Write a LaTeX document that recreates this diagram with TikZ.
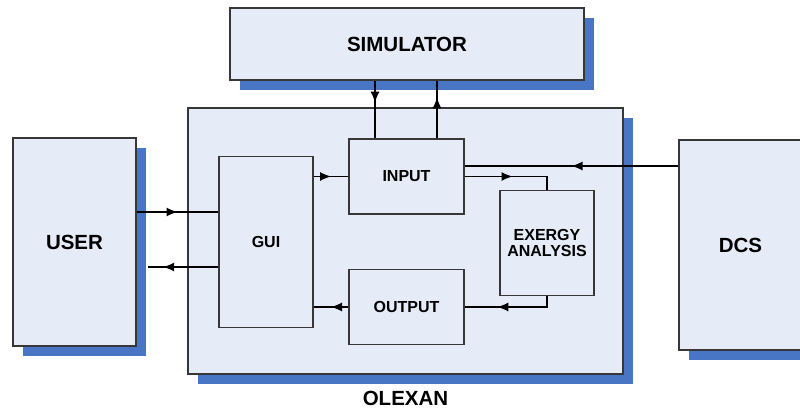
\documentclass[tikz,border=0pt]{standalone}
\usepackage{fontspec}
\setmainfont{Liberation Sans}
\usepackage{tikz}
\usetikzlibrary{positioning,calc,shadows,arrows.meta,decorations.markings}
\usepackage{xcolor}
\definecolor{boxfill}{RGB}{229,235,247}
\definecolor{shadowblue}{RGB}{72,117,196}
\definecolor{edgegray}{RGB}{55,55,55}

\begin{document}
\begin{tikzpicture}[
    x=1pt, y=-1pt,
    box/.style={rectangle, draw=edgegray, line width=1.3pt, fill=boxfill, inner sep=0pt, align=center, font=\bfseries\fontsize{16}{18}\selectfont},
    bigbox/.style={box, general shadow={fill=shadowblue, shadow xshift=10pt, shadow yshift=-10pt}, font=\bfseries\fontsize{20.5}{23}\selectfont},
    flow/.style={line width=1.2pt, decoration={markings, mark=at position #1 with {\arrow{Latex[length=11pt,width=9pt]}}}, postaction={decorate}},
    flow/.default=0.5
]
    \useasboundingbox (0,0) rectangle (800,409);
    \clip (0,0) rectangle (800,409);

    % Outer blocks
    \node[bigbox, minimum width=354pt, minimum height=72pt] (simulator) at (407,44) {SIMULATOR};
    \node[bigbox, minimum width=435pt, minimum height=266pt] (olexan) at (405.5,241) {};
    \node[bigbox, minimum width=123pt, minimum height=208pt] (user) at (74.5,242) {USER};
    \node[bigbox, minimum width=123pt, minimum height=210pt] (dcs) at (740.5,245) {DCS};
    \node[font=\bfseries\fontsize{20.5}{23}\selectfont] (olexanlabel) at ([yshift=-24pt]olexan.south) {OLEXAN};

    % Inner blocks
    \node[box, minimum width=94pt, minimum height=171pt] (gui) at (266,242) {GUI};
    \node[box, minimum width=115pt, minimum height=75pt] (input) at (406.5,176.5) {INPUT};
    \node[box, minimum width=115pt, minimum height=75pt] (output) at (406.5,307) {OUTPUT};
    \node[box, minimum width=94pt, minimum height=105pt] (exergy) at (547,243) {EXERGY\\[-2pt]ANALYSIS};

    % Simulator link
    \draw[flow=0.38] ([xshift=-32pt]simulator.south) -- ([xshift=-32pt]simulator.south |- input.north);
    \draw[flow=0.71] ([xshift=30pt]simulator.south |- input.north) -- ([xshift=30pt]simulator.south);

    % User link
    \coordinate (guiin) at ([yshift=30pt]gui.west);
    \coordinate (guiout) at ([yshift=-25pt]gui.west);
    \coordinate (userin) at ($(guiout -| user.east)+(11,0)$);
    \draw[flow] (guiin -| user.east) -- (guiin);
    \draw[flow=0.78] (guiout) -- (userin);

    % Data flow inside
    \coordinate (dcsin) at ([yshift=10.5pt]input.east);
    \draw[flow] (input.west -| gui.east) -- (input.west);
    \draw[flow] (dcsin -| dcs.west) -- (dcsin);
    \draw[flow] (input.east) -| (exergy.north);
    \draw[flow=0.65] (exergy.south) |- (output.east);
    \draw[flow] (output.west) -- (output.west -| gui.east);
\end{tikzpicture}
\end{document}
